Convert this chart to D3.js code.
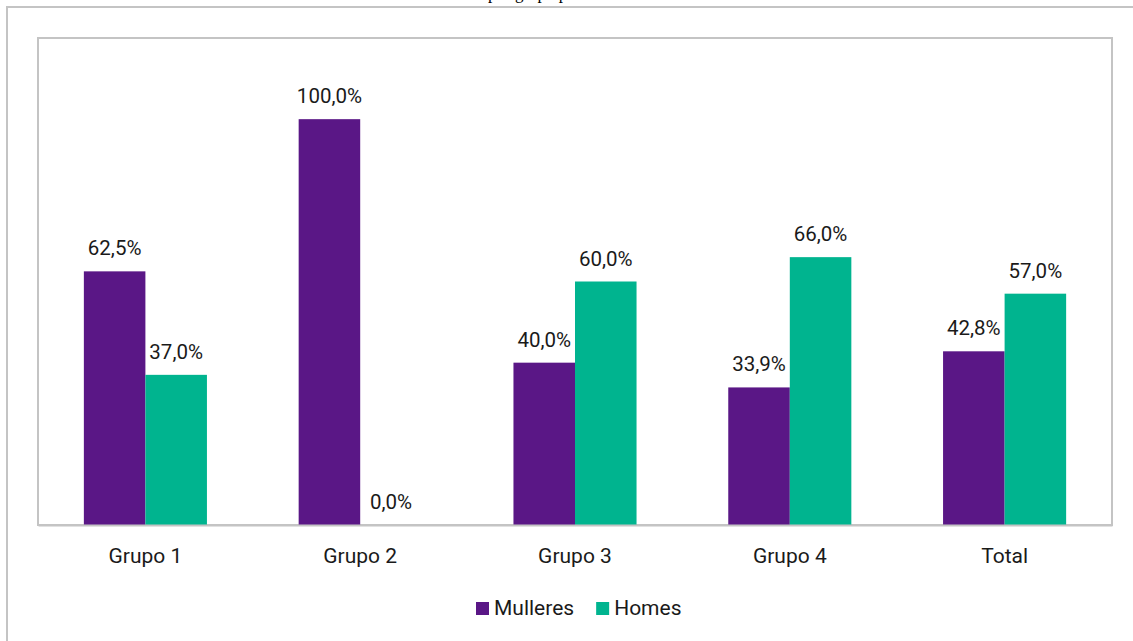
<!DOCTYPE html>
<html>
<head>
<meta charset="utf-8">
<script src="https://cdn.jsdelivr.net/npm/d3@7"></script>
<style>
  html, body { margin: 0; padding: 0; background: #fff; }
  svg { display: block; }
</style>
</head>
<body>
<svg id="chart" width="1133" height="641"></svg>
<script>
const categories = ["Grupo 1", "Grupo 2", "Grupo 3", "Grupo 4", "Total"];
const seriesNames = ["Mulleres", "Homes"];
const mulleres = [62.5, 100.0, 40.0, 33.9, 42.8];
const homes = [37.0, 0.0, 60.0, 66.0, 57.0];
const seriesColors = ["#5a1786", "#00b48f"];
const yMax = 120;
const titleText = "Porcentaxe de mulleres e homes por grupo profesional";

const svg = d3.select("#chart");
const W = 1133, H = 641;
const plot = { left: 38, top: 38, right: 1112, bottom: 525 };
const fontFamily = "Roboto, 'Noto Sans', sans-serif";
const textColor = "#1a1a1a";

svg.append("rect").attr("width", W).attr("height", H).attr("fill", "#fff");

// clipped title (only descenders visible at top, as in the source)
svg.append("text")
  .attr("x", 450).attr("y", -1)
  .attr("text-anchor", "middle")
  .attr("font-family", "'Liberation Serif', 'Times New Roman', serif")
  .attr("font-size", 17)
  .attr("fill", "#000")
  .text(titleText);

// outer frame
svg.append("path")
  .attr("d", `M7,${H} V7 H${W}`)
  .attr("fill", "none").attr("stroke", "#c4c4c4").attr("stroke-width", 2);

// plot area frame
svg.append("rect")
  .attr("x", plot.left).attr("y", plot.top)
  .attr("width", plot.right - plot.left).attr("height", plot.bottom - plot.top)
  .attr("fill", "none").attr("stroke", "#c4c4c4").attr("stroke-width", 2);

const x = d3.scaleBand().domain(categories)
  .range([plot.left, plot.right])
  .paddingInner(0.427).paddingOuter(0.2135);
const xs = d3.scaleBand().domain(seriesNames).range([0, x.bandwidth()]).padding(0);
const y = d3.scaleLinear().domain([0, yMax]).range([plot.bottom, plot.top]);

const data = categories.map((c, i) => ({
  cat: c,
  vals: [
    { s: seriesNames[0], v: mulleres[i], color: seriesColors[0] },
    { s: seriesNames[1], v: homes[i], color: seriesColors[1] }
  ]
}));

const fmt = v => v.toFixed(1).replace(".", ",") + "%";

const groups = svg.append("g").selectAll("g").data(data).join("g")
  .attr("transform", d => `translate(${x(d.cat)},0)`);

groups.selectAll("rect").data(d => d.vals).join("rect")
  .attr("x", d => xs(d.s))
  .attr("y", d => y(d.v))
  .attr("width", xs.bandwidth())
  .attr("height", d => y(0) - y(d.v))
  .attr("fill", d => d.color);

groups.selectAll("text").data(d => d.vals).join("text")
  .attr("x", d => xs(d.s) + xs.bandwidth() / 2)
  .attr("y", d => y(d.v) - 16)
  .attr("text-anchor", "middle")
  .attr("font-family", fontFamily)
  .attr("font-size", 20.5)
  .attr("fill", textColor)
  .text(d => fmt(d.v));

// baseline axis (category labels)
const xAxis = d3.axisBottom(x).tickSize(0).tickPadding(0);
const ax = svg.append("g").attr("transform", `translate(0,${plot.bottom})`).call(xAxis);
ax.select(".domain").attr("stroke", "#c4c4c4").attr("stroke-width", 2);
ax.selectAll("text")
  .attr("font-family", fontFamily)
  .attr("font-size", 21)
  .attr("fill", textColor)
  .attr("dy", null)
  .attr("y", 38);

// legend
const legend = svg.append("g");
let lx = 476;
seriesNames.forEach((name, i) => {
  legend.append("rect")
    .attr("x", lx).attr("y", 602).attr("width", 13).attr("height", 13)
    .attr("fill", seriesColors[i]);
  const t = legend.append("text")
    .attr("x", lx + 18).attr("y", 615)
    .attr("font-family", fontFamily)
    .attr("font-size", 21)
    .attr("fill", textColor)
    .text(name);
  lx += 18 + t.node().getComputedTextLength() + 22;
});
</script>
</body>
</html>
